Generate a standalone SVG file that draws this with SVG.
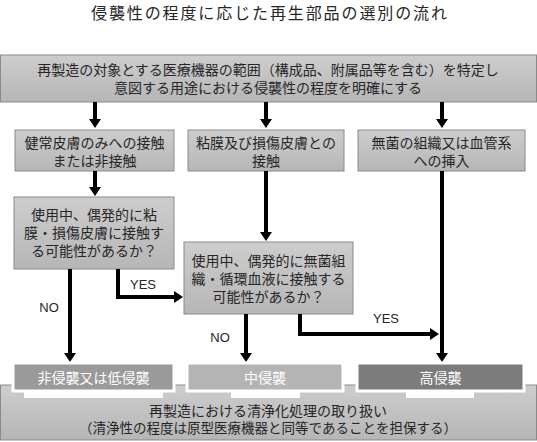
<svg xmlns="http://www.w3.org/2000/svg" width="537" height="442" viewBox="0 0 537 442">
<defs>
<linearGradient id="g" x1="0" y1="0" x2="0" y2="1">
<stop offset="0" stop-color="#cdcdcd"/>
<stop offset="1" stop-color="#b6b6b6"/>
</linearGradient>
<marker id="ah" markerUnits="userSpaceOnUse" viewBox="0 0 9 12" markerWidth="9" markerHeight="12" refX="0" refY="6" orient="auto">
<path d="M0,0 L9,6 L0,12 z" fill="#000"/>
</marker>
</defs>
<style>
text{font-family:"Noto Sans CJK JP","Noto Sans",sans-serif;font-size:14px;fill:#262626;text-anchor:middle;dominant-baseline:central}
.box{fill:url(#g);stroke:#8a8a8a;stroke-width:1}
.res{stroke:#fff;stroke-width:3}
.rt{fill:#fff}
.wt{fill:#fff}
.lbl{font-family:"Liberation Sans",Arial,sans-serif;font-size:13px}
.c2{fill:none;stroke:#000;stroke-width:4;marker-end:url(#ah)}
</style>
<rect width="537" height="442" fill="#fff"/>
<text x="269" y="12" style="font-size:16px" textLength="356" lengthAdjust="spacing">侵襲性の程度に応じた再生部品の選別の流れ</text>

<g id="top">
<rect class="box" x="0.5" y="55" width="536" height="47"/>
<text x="268" y="69">再製造の対象とする医療機器の範囲（構成品、附属品等を含む）を特定し</text>
<text x="268" y="87">意図する用途における侵襲性の程度を明確にする</text>
</g>
<g id="n1">
<rect class="box" x="15" y="130" width="159" height="41"/>
<text x="94.5" y="141.5">健常皮膚のみへの接触</text>
<text x="94.5" y="159.5">または非接触</text>
</g>
<g id="n2">
<rect class="box" x="188" y="130" width="156" height="41"/>
<text x="266" y="141.5">粘膜及び損傷皮膚との</text>
<text x="266" y="159.5">接触</text>
</g>
<g id="n3">
<rect class="box" x="358" y="130" width="167" height="41"/>
<text x="441.5" y="141.5">無菌の組織又は血管系</text>
<text x="441.5" y="159.5">への挿入</text>
</g>
<g id="q1">
<rect class="box" x="14" y="197" width="160" height="72"/>
<text x="94" y="214">使用中、偶発的に粘</text>
<text x="94" y="232">膜・損傷皮膚に接触す</text>
<text x="94" y="250">る可能性があるか？</text>
</g>
<g id="q2">
<rect class="box" x="184" y="242" width="169" height="72"/>
<text x="268.5" y="260">使用中、偶発的に無菌組</text>
<text x="268.5" y="278">織・循環血液に接触する</text>
<text x="268.5" y="296">可能性があるか？</text>
</g>

<g id="connectors">
<path class="c2" d="M95,102 V119"/>
<path class="c2" d="M266,102 V119"/>
<path class="c2" d="M442,102 V119"/>
<path class="c2" d="M95,171 V187"/>
<path class="c2" d="M266,171 V232"/>
<path class="c2" d="M442,171 V353"/>
<path class="c2" d="M118,269 V297 H174"/>
<path class="c2" d="M70,269 V353"/>
<path class="c2" d="M246,314 V353"/>
<path class="c2" d="M300,314 V334 H430"/>
<text class="lbl" x="143" y="284">YES</text>
<text class="lbl" x="49" y="307">NO</text>
<text class="lbl" x="220" y="337">NO</text>
<text class="lbl" x="386" y="318">YES</text>
</g>

<g id="bar">
<rect class="box" x="0.5" y="385" width="536" height="55"/>
<text x="268" y="410">再製造における清浄化処理の取り扱い</text>
<text x="268" y="427" style="font-size:13.5px">（清浄性の程度は原型医療機器と同等であることを担保する）</text>
</g>
<g id="r1">
<rect class="res" x="13" y="363" width="161" height="28" fill="#9a9a9a"/>
<rect class="rt" x="24" y="392" width="139" height="6"/>
<text class="wt" x="93.5" y="377">非侵襲又は低侵襲</text>
</g>
<g id="r2">
<rect class="res" x="187" y="363" width="156" height="28" fill="#b4b4b4"/>
<rect class="rt" x="231" y="392" width="69" height="6"/>
<text class="wt" x="265" y="377">中侵襲</text>
</g>
<g id="r3">
<rect class="res" x="357" y="363" width="167" height="28" fill="#7c7c7c"/>
<rect class="rt" x="406" y="392" width="68" height="6"/>
<text class="wt" x="440.5" y="377">高侵襲</text>
</g>
</svg>
